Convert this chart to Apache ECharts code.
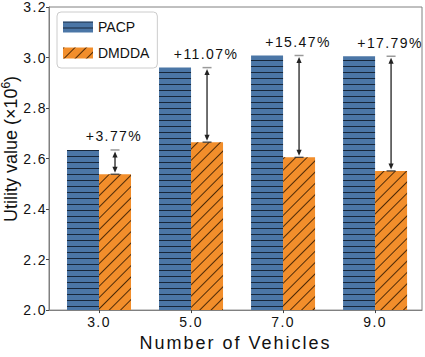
<!DOCTYPE html>
<html>
<head>
<meta charset="utf-8">
<script src="https://cdn.jsdelivr.net/npm/echarts@6/dist/echarts.min.js"></script>
<style>
  html, body { margin: 0; padding: 0; background: #fff; }
  #chart { width: 425px; height: 357px; }
  /* the reference text is set loosely */
  #chart text { letter-spacing: 1.4px; }
  #chart text[style*="18px"] { letter-spacing: 2px; }
  #chart text[style*="Arial"] { letter-spacing: 0; }
</style>
</head>
<body>
<div id="chart"></div>
<script>
const vehicles = [3, 5, 7, 9]
const pacp = [2.634, 2.960, 3.008, 3.005]
const dmdda = [2.538, 2.665, 2.605, 2.551]
const gains = ['+3.77%', '+11.07%', '+15.47%', '+17.79%']
const seriesNames = ['PACP', 'DMDDA']

const FONT = 'Liberation Sans'
const BAR_W = 32
const axisColor = '#808080'

const chart = echarts.init(document.getElementById('chart'), null, { renderer: 'svg' })

// double arrow from the PACP height down to the DMDDA bar, with the gain on top
function renderGain (params, api) {
  const i = api.value(3)
  const top = api.coord([api.value(0), api.value(1)])
  const bot = api.coord([api.value(0), api.value(2)])
  const x = top[0] + BAR_W / 2
  const y0 = top[1] + 1.5
  const y1 = bot[1] - 1.5
  const ink = '#222'
  return {
    type: 'group',
    children: [
      { type: 'line', shape: { x1: x - 4.5, y1: top[1], x2: x + 4.5, y2: top[1] }, style: { stroke: '#9a9a9a', lineWidth: 1.5 } },
      { type: 'line', shape: { x1: x - 4.5, y1: bot[1], x2: x + 4.5, y2: bot[1] }, style: { stroke: '#333', lineWidth: 1.2 } },
      { type: 'line', shape: { x1: x, y1: y0 + 4, x2: x, y2: y1 - 4 }, style: { stroke: ink, lineWidth: 1.3 } },
      { type: 'polygon', shape: { points: [[x, y0], [x - 2.6, y0 + 6], [x + 2.6, y0 + 6]] }, style: { fill: ink } },
      { type: 'polygon', shape: { points: [[x, y1], [x - 2.6, y1 - 6], [x + 2.6, y1 - 6]] }, style: { fill: ink } },
      {
        type: 'text',
        style: {
          text: gains[i], x: x - 1, y: top[1] - 13.5,
          align: 'center', verticalAlign: 'middle',
          fontSize: 14, fontFamily: FONT, fill: '#111'
        }
      }
    ]
  }
}

const option = {
  animation: false,
  backgroundColor: '#fff',
  grid: { left: 49, right: 3, top: 6, bottom: 37, show: true, borderColor: axisColor, borderWidth: 1 },
  legend: {
    data: seriesNames,
    orient: 'vertical',
    left: 57,
    top: 12,
    icon: 'rect',
    itemWidth: 30,
    itemHeight: 11,
    itemGap: 12,
    itemTextGap: 14,
    padding: [8, 8, 8, 6],
    borderColor: '#cccccc',
    borderWidth: 1,
    borderRadius: 4,
    backgroundColor: 'rgba(255,255,255,0.8)',
    textStyle: { fontSize: 14, fontFamily: 'Arial', color: '#111' }
  },
  xAxis: {
    type: 'value',
    min: 1.913,
    max: 10.02,
    name: 'Number of Vehicles',
    nameLocation: 'middle',
    nameGap: 19,
    nameTextStyle: { fontSize: 18, fontFamily: FONT, color: '#111' },
    axisLine: { show: true, onZero: false, lineStyle: { color: axisColor } },
    axisTick: { show: true, customValues: vehicles, length: 3, lineStyle: { color: '#444' } },
    axisLabel: {
      customValues: vehicles,
      formatter: v => v.toFixed(1),
      margin: 5, fontSize: 14, fontFamily: FONT, color: '#111'
    },
    splitLine: { show: false }
  },
  yAxis: {
    type: 'value',
    min: 2,
    max: 3.2,
    interval: 0.2,
    axisLine: { show: true, lineStyle: { color: axisColor } },
    axisTick: { show: true, length: 3, lineStyle: { color: '#444' } },
    axisLabel: { formatter: v => v.toFixed(1), margin: 2, fontSize: 14, fontFamily: FONT, color: '#111' },
    splitLine: { show: false }
  },
  graphic: [{
    type: 'text',
    x: 11,
    y: 149,
    rotation: Math.PI / 2,
    style: {
      text: '{a|Utility value (×10}{s|6}{a|)}',
      align: 'center',
      verticalAlign: 'middle',
      rich: {
        a: { fontSize: 18, lineHeight: 22, fontFamily: 'Arial', fill: '#111' },
        s: { fontSize: 12, fontFamily: 'Arial', fill: '#111', verticalAlign: 'top' }
      }
    }
  }],
  series: [
    {
      name: 'PACP',
      type: 'bar',
      data: vehicles.map((v, i) => [v, pacp[i]]),
      barWidth: BAR_W,
      barGap: '0%',
      clip: true,
      itemStyle: {
        color: '#4b76a6',
        decal: { symbol: 'rect', symbolSize: 1, dashArrayX: [1, 0], dashArrayY: [1, 5], color: '#17273a' }
      }
    },
    {
      name: 'DMDDA',
      type: 'bar',
      data: vehicles.map((v, i) => [v, dmdda[i]]),
      barWidth: BAR_W,
      barGap: '0%',
      clip: true,
      itemStyle: {
        color: '#f28e2b',
        decal: { symbol: 'rect', symbolSize: 1, dashArrayX: [1, 0], dashArrayY: [1, 7], rotation: -Math.PI / 4, color: 'rgba(50,25,0,0.85)' }
      }
    },
    {
      type: 'custom',
      renderItem: renderGain,
      data: vehicles.map((v, i) => [v, pacp[i], dmdda[i], i]),
      clip: false,
      z: 10,
      silent: true
    }
  ]
}

chart.setOption(option)
</script>
</body>
</html>
